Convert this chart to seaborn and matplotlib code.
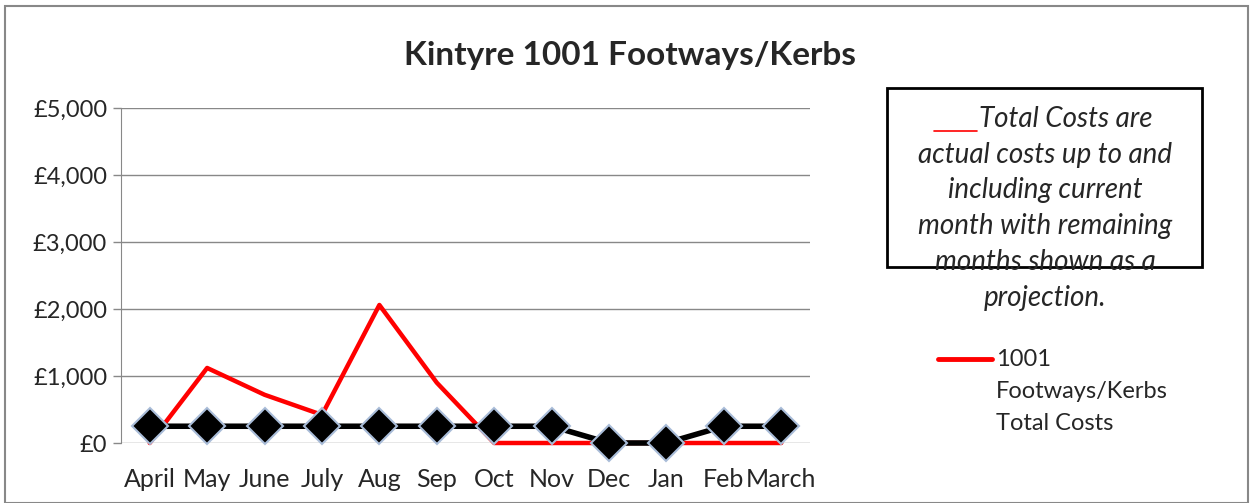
import pandas as pd
import matplotlib.pyplot as plt
import seaborn as sns
from matplotlib.patches import Rectangle
from matplotlib.lines import Line2D
from matplotlib.ticker import FuncFormatter

months = ['April', 'May', 'June', 'July', 'Aug', 'Sep', 'Oct', 'Nov', 'Dec', 'Jan', 'Feb', 'March']
total_costs = [0, 1120, 720, 420, 2060, 900, 0, 0, 0, 0, 0, 0]
budget = [250, 250, 250, 250, 250, 250, 250, 250, 0, 0, 250, 250]

df = pd.DataFrame({'month': months, 'total': total_costs, 'budget': budget})
df['x'] = range(len(months))

sns.set_style('white')
plt.rcParams['font.family'] = ['Lato', 'DejaVu Sans']

fig = plt.figure(figsize=(12.53, 5.03), dpi=100)
ax = fig.add_axes([121 / 1253, 1 - 443 / 503, (810 - 121) / 1253, (443 - 108) / 503])

sns.lineplot(data=df, x='x', y='total', ax=ax, color='#ff0000', lw=3.2, zorder=3)
sns.lineplot(data=df, x='x', y='budget', ax=ax, color='black', lw=4, zorder=4,
             marker='D', markersize=18, markerfacecolor='black',
             markeredgecolor='#a9bcd8', markeredgewidth=1.5)
for ln in ax.lines:
    ln.set_clip_on(False)

ax.set_xlim(-0.5, 11.5)
ax.set_ylim(0, 5000)
ax.set_yticks(range(0, 5001, 1000))
ax.yaxis.set_major_formatter(FuncFormatter(lambda v, p: '£{:,.0f}'.format(v)))
ax.set_xticks(df['x'])
ax.set_xticklabels(months)
ax.grid(axis='y', color='#888888', lw=1)
ax.set_axisbelow(True)
for s in ['top', 'right', 'bottom']:
    ax.spines[s].set_visible(False)
ax.spines['left'].set_color('#888888')
ax.tick_params(axis='y', length=6, width=1, color='#888888', labelsize=17, pad=4, left=True)
ax.tick_params(axis='x', length=0, labelsize=18, pad=18)
ax.set_xlabel('')
ax.set_ylabel('')

fig.text(630 / 1253, 1 - 55 / 503, 'Kintyre 1001 Footways/Kerbs', ha='center', va='center',
         fontsize=24, fontweight='bold')

# explanatory box
fig.patches.append(Rectangle((887 / 1253, 1 - 267 / 503), (1202 - 887) / 1253, (267 - 88) / 503,
                             transform=fig.transFigure, fill=False, ec='black', lw=2, zorder=1))
note = ['Total Costs are', 'actual costs up to and', 'including current',
        'month with remaining', 'months shown as a', 'projection.']
ys = [119, 155, 190, 226, 262, 298]
for i, (line, y) in enumerate(zip(note, ys)):
    x = 1066 if i == 0 else 1045
    fig.text(x / 1253, 1 - y / 503, line, ha='center', va='center', fontsize=20, style='italic')
fig.lines.append(Line2D([934 / 1253, 977 / 1253], [1 - 131 / 503] * 2, transform=fig.transFigure,
                        color='#ff0000', lw=1.2))

# legend
fig.lines.append(Line2D([938 / 1253, 992 / 1253], [1 - 359 / 503] * 2, transform=fig.transFigure,
                        color='#ff0000', lw=3.5, solid_capstyle='round'))
for line, y in zip(['1001', 'Footways/Kerbs', 'Total Costs'], [359, 392, 424]):
    fig.text(996 / 1253, 1 - y / 503, line, ha='left', va='center', fontsize=17)

# outer border
fig.patches.append(Rectangle((5 / 1253, 0), 1 - 10 / 1253, 1 - 6 / 503, transform=fig.transFigure,
                             fill=False, ec='#888888', lw=1.5))

fig.savefig('out.png', dpi=100)
